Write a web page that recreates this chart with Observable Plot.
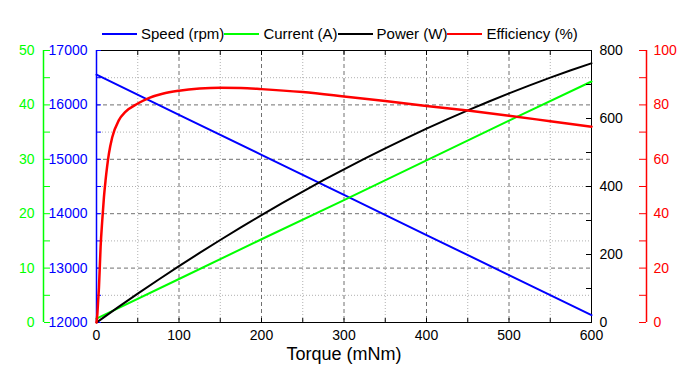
<!DOCTYPE html>
<html>
<head>
<meta charset="utf-8">
<script src="https://cdn.jsdelivr.net/npm/d3@7"></script>
<script src="https://cdn.jsdelivr.net/npm/@observablehq/plot@0.6"></script>
<style>
  body { margin: 0; background: #fff; }
  #chart { position: relative; width: 691px; height: 385px; overflow: hidden; background: #fff; }
  #chart svg { position: absolute; left: 0; top: 0; }
  .legend { position: absolute; left: 102px; top: 26px; display: flex; align-items: center;
            font-family: "Liberation Sans", Arial, sans-serif; font-size: 15px; line-height: 15px; color: #000; white-space: nowrap; }
  .legend .sw { display: inline-block; width: 35px; height: 2px; margin-right: 4px; }
</style>
</head>
<body>
<div id="chart"></div>
<script>
// ---- data ----
const torqueLinear = [0, 100, 200, 300, 400, 500, 600];          // mNm
const speed   = [16555, 15818, 15082, 14345, 13608, 12872, 12135]; // rpm
const current = [0.7, 8.0, 15.3, 22.5, 29.8, 37.1, 44.3];          // A

const torquePower = [0, 25, 50, 75, 100, 125, 150, 175, 200, 225, 250, 275, 300,
                     325, 350, 375, 400, 425, 450, 475, 500, 525, 550, 575, 600];
const power = [0, 42.9, 84.8, 125.7, 165.7, 204.7, 242.7, 279.8, 315.9, 351.0, 385.2, 418.4, 450.7,
               481.9, 512.3, 541.6, 570.0, 597.4, 623.9, 649.4, 674.0, 697.5, 720.2, 741.8, 762.5]; // W

const torqueEff = [0, 1, 2, 3, 5, 7, 9, 11, 15, 19, 27, 35, 50, 64, 80, 100, 125, 150, 175, 200,
                   250, 300, 350, 400, 450, 500, 550, 600];
const efficiency = [0, 3, 8, 13, 28, 37.6, 46, 52.3, 62, 68, 74.3, 77.4, 80.5, 82.6, 84.1, 85.2, 86.0, 86.3, 86.2, 85.8,
                    84.7, 83.1, 81.4, 79.6, 77.9, 76.0, 74.0, 72.0]; // %

const xMajor = [0, 100, 200, 300, 400, 500, 600];
const xMinorTicks = [0, 50, 100, 150, 200, 250, 300, 350, 400, 450, 500, 550, 600];
const xGridMajor = [100, 200, 300, 400, 500];
const xGridMinor = [50, 150, 250, 350, 450, 550];
const speedTicks = [12000, 13000, 14000, 15000, 16000, 17000];
const speedMinor = [12000, 12500, 13000, 13500, 14000, 14500, 15000, 15500, 16000, 16500, 17000];
const speedGridMajor = [13000, 14000, 15000, 16000];
const speedGridMinor = [12500, 13500, 14500, 15500, 16500];
const currentTicks = [0, 10, 20, 30, 40, 50];
const currentMinor = [0, 5, 10, 15, 20, 25, 30, 35, 40, 45, 50];
const powerTicks = [0, 200, 400, 600, 800];
const powerMinor = [0, 100, 200, 300, 400, 500, 600, 700, 800];
const effTicks = [0, 20, 40, 60, 80, 100];
const effMinor = [0, 10, 20, 30, 40, 50, 60, 70, 80, 90, 100];

const series = [
  {name: "Speed (rpm)", color: "#0000ff"},
  {name: "Current (A)", color: "#00ff00"},
  {name: "Power (W)", color: "#000000"},
  {name: "Efficiency (%)", color: "#ff0000"}
];

const speedData = torqueLinear.map((t, i) => ({t, v: speed[i]}));
const currentData = torqueLinear.map((t, i) => ({t, v: current[i]}));
const powerData = torquePower.map((t, i) => ({t, v: power[i]}));
const effData = torqueEff.map((t, i) => ({t, v: efficiency[i]}));

// ---- layout ----
const W = 691, H = 385, ML = 96, MR = 100, MT = 50, MB = 63;
const left = ML, right = W - MR, plotH = H - MT - MB;
const greenX = 43, redX = 646;
const font = "'Liberation Sans', Arial, sans-serif";

function layer(marks, yDomain, hideX) {
  return Plot.plot({
    width: W, height: H, marginTop: MT, marginBottom: MB, marginLeft: ML, marginRight: MR,
    x: hideX ? {domain: [0, 600], axis: null, label: null} : {domain: [0, 600], label: null},
    y: {domain: yDomain, label: null},
    style: {fontFamily: font, fontSize: "14px", background: "transparent", overflow: "visible"},
    marks
  });
}

const chart = document.getElementById("chart");

// Layer 1: grid, frame, torque axis, speed axis, speed line
chart.appendChild(layer([
  Plot.gridX(xGridMinor, {stroke: "#b0b0b0", strokeOpacity: 1, strokeDasharray: "1,2"}),
  Plot.gridY(speedGridMinor, {stroke: "#b0b0b0", strokeOpacity: 1, strokeDasharray: "1,2"}),
  Plot.gridX(xGridMajor, {stroke: "#707070", strokeOpacity: 1, strokeDasharray: "4,3"}),
  Plot.gridY(speedGridMajor, {stroke: "#707070", strokeOpacity: 1, strokeDasharray: "4,3"}),
  Plot.frame({stroke: "#000"}),
  // inward torque ticks on bottom and top
  Plot.axisX({anchor: "top", ticks: xMinorTicks, text: null, label: null, tickSize: 5, dy: plotH}),
  Plot.axisX({anchor: "bottom", ticks: xMinorTicks, text: null, label: null, tickSize: 5, dy: -plotH}),
  Plot.axisX({anchor: "bottom", ticks: xMajor, tickSize: 0, tickPadding: 8, tickFormat: "d", label: null, fill: "#000"}),
  Plot.text(["Torque (mNm)"], {frameAnchor: "bottom", dy: 37, fontSize: 18, fill: "#000"}),
  // speed axis (left frame edge)
  Plot.ruleX([0], {stroke: "#0000ff", strokeWidth: 1.5}),
  Plot.axisY({anchor: "right", ticks: speedMinor, text: null, label: null, tickSize: 4, dx: left - right, stroke: "#0000ff"}),
  Plot.axisY({anchor: "left", ticks: speedTicks, tickSize: 0, tickPadding: 9, tickFormat: "d", label: null, fill: "#0000ff"}),
  Plot.line(speedData, {x: "t", y: "v", stroke: "#0000ff", strokeWidth: 2})
], [12000, 17000], false));

// Layer 2: current
chart.appendChild(layer([
  Plot.ruleX([0], {dx: greenX - left, stroke: "#00ff00", strokeWidth: 1.5}),
  Plot.axisY({anchor: "right", ticks: currentMinor, text: null, label: null, tickSize: 6, dx: greenX - right, stroke: "#00ff00"}),
  Plot.axisY({anchor: "left", ticks: currentTicks, tickSize: 0, tickPadding: 9, dx: greenX - left, tickFormat: "d", label: null, fill: "#00ff00"}),
  Plot.line(currentData, {x: "t", y: "v", stroke: "#00ff00", strokeWidth: 2})
], [0, 50], true));

// Layer 3: power
chart.appendChild(layer([
  Plot.axisY({anchor: "left", ticks: powerMinor, text: null, label: null, tickSize: 5, dx: right - left, stroke: "#000"}),
  Plot.axisY({anchor: "right", ticks: powerTicks, tickSize: 0, tickPadding: 8, tickFormat: "d", label: null, fill: "#000"}),
  Plot.line(powerData, {x: "t", y: "v", stroke: "#000", strokeWidth: 2, curve: "monotone-x"})
], [0, 800], true));

// Layer 4: efficiency
chart.appendChild(layer([
  Plot.ruleX([600], {dx: redX - right, stroke: "#ff0000", strokeWidth: 1.5}),
  Plot.axisY({anchor: "left", ticks: effMinor, text: null, label: null, tickSize: 7, dx: redX - left, stroke: "#ff0000"}),
  Plot.axisY({anchor: "right", ticks: effTicks, tickSize: 0, tickPadding: 7, dx: redX - right, tickFormat: "d", label: null, fill: "#ff0000"}),
  Plot.line(effData, {x: "t", y: "v", stroke: "#ff0000", strokeWidth: 2.5, curve: "monotone-x"})
], [0, 100], true));

// Legend
const legend = document.createElement("div");
legend.className = "legend";
for (const s of series) {
  const sw = document.createElement("span");
  sw.className = "sw";
  sw.style.background = s.color;
  const label = document.createElement("span");
  label.textContent = s.name;
  legend.appendChild(sw);
  legend.appendChild(label);
}
chart.appendChild(legend);
</script>
</body>
</html>
